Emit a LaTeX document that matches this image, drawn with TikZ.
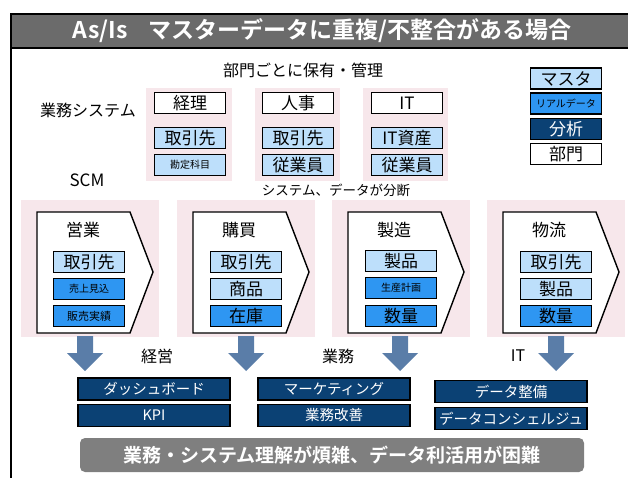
\documentclass[tikz,border=0pt]{standalone}
\usepackage{fontspec}
\setmainfont{Noto Sans CJK JP}[BoldFont={Noto Sans CJK JP Bold}]
\usetikzlibrary{positioning}

\definecolor{bgpink}{HTML}{F7E7EB}
\definecolor{masterblue}{HTML}{BDDFFB}
\definecolor{realblue}{HTML}{2E96F2}
\definecolor{navy}{HTML}{0B4174}
\definecolor{arrowblue}{HTML}{5A7DA8}
\definecolor{titlegray}{HTML}{6B6B6B}
\definecolor{bargray}{HTML}{7F7F7F}

\newcommand\fs[1]{\fontsize{#1}{#1}\selectfont}

\tikzset{
  databox/.style={draw=black, line width=1.4pt, inner sep=0pt,
                  minimum width=71pt, minimum height=21pt},
  deptbox/.style={databox, fill=white, font=\fs{17}},
  masterbox/.style={databox, fill=masterblue, font=\fs{17}},
  realbox/.style={databox, fill=realblue, font=\fs{17}},
  anabox/.style={databox, fill=navy, text=white, font=\fs{17}},
  usebox/.style={draw=black, line width=1.4pt, fill=navy, text=white,
                 minimum width=152pt, minimum height=22pt, inner sep=0pt,
                 font=\fs{14.5}},
  label/.style={inner sep=0pt, font=\fs{16}},
}

\begin{document}
\begin{tikzpicture}[x=1pt, y=-1pt]
  \useasboundingbox (0,0) rectangle (628,478);

  % frame and title
  \draw[line width=1.4pt] (11,14) -- (11,478);
  \draw[line width=1.4pt, fill=titlegray] (11,14) rectangle (640,48);
  \node[text=white, font=\bfseries\fs{23}] (title) at (322,31)
    {As/Is\hspace{0.9em}マスターデータに重複/不整合がある場合};

  % departments
  \node[label] (kanri) at (303,70) {部門ごとに保有・管理};
  \node[label] (gyomusys) at (88,110) {業務システム};
  \node[label, font=\fs{17}] (scm) at (87,180) {SCM};

  \fill[bgpink] (146,88) rectangle (232,181);
  \fill[bgpink] (255,88) rectangle (340,181);
  \fill[bgpink] (363,88) rectangle (448,181);

  \node[deptbox] (keiri) at (190,103) {経理};
  \node[masterbox] (keiri1) at (190,138) {取引先};
  \node[masterbox, font=\fs{10}] (keiri2) at (190,165) {勘定科目};

  \node[deptbox] (jinji) at (298,103) {人事};
  \node[masterbox] (jinji1) at (298,138) {取引先};
  \node[masterbox] (jinji2) at (298,165) {従業員};

  \node[deptbox] (it) at (407,103) {IT};
  \node[masterbox] (it1) at (407,138) {IT資産};
  \node[masterbox] (it2) at (407,165) {従業員};

  \node[label, font=\fs{13.5}] (bundan) at (336,190) {システム、データが分断};

  % legend
  \node[masterbox] (lgmaster) at (566,78.5) {マスタ};
  \node[realbox, font=\fs{10}] (lgreal) at (566,103.5) {リアルデータ};
  \node[anabox] (lgana) at (566,129) {分析};
  \node[deptbox] (lgdept) at (566,154) {部門};

  % SCM chevrons
  \foreach \L/\ax/\name/\ttl in {37/85/eigyo/営業, 193/246/kobai/購買,
                                 348/400/seizo/製造, 503/556/butsuryu/物流}{
    \fill[bgpink] (\L-16,200) rectangle (\L+122,337);
    \draw[line width=1.4pt, fill=white]
      (\L,212) -- (\L+93,212) -- (\L+116,272) -- (\L+93,333) -- (\L,333) -- cycle;
    \node[label, font=\fs{17}] (\name) at (\L+46,230) {\ttl};
    % down arrow
    \coordinate (\name-out) at (\ax,336);
    \fill[arrowblue] (\name-out) ++(-8,0) -- ++(16,0) -- ++(0,17) -- ++(10,0)
      -- (\ax,371) -- ++(-18,-18) -- ++(10,0) -- cycle;
  }

  \node[masterbox] (eigyo1) at (89,262) {取引先};
  \node[realbox, font=\fs{10}] (eigyo2) at (89,289) {売上見込};
  \node[realbox, font=\fs{11}] (eigyo3) at (89,316) {販売実績};

  \node[masterbox] (kobai1) at (246,262) {取引先};
  \node[masterbox] (kobai2) at (246,289) {商品};
  \node[realbox] (kobai3) at (246,316) {在庫};

  \node[masterbox] (seizo1) at (401,261) {製品};
  \node[realbox, font=\fs{10}] (seizo2) at (401,288) {生産計画};
  \node[realbox] (seizo3) at (401,316) {数量};

  \node[masterbox] (butsuryu1) at (556,262) {取引先};
  \node[masterbox] (butsuryu2) at (556,289) {製品};
  \node[realbox] (butsuryu3) at (556,316) {数量};

  % analysis
  \node[label] (keiei) at (157,356) {経営};
  \node[label] (gyomu) at (338,356) {業務};
  \node[label] (itlbl) at (518,356) {IT};

  \node[usebox] (dash) at (154,389) {ダッシュボード};
  \node[usebox] (kpi) at (154,415.5) {KPI};
  \node[usebox] (mkt) at (334,389) {マーケティング};
  \node[usebox] (kaizen) at (334,415.5) {業務改善};
  \node[usebox] (seibi) at (511,391.5) {データ整備};
  \node[usebox] (concierge) at (511,418.5) {データコンシェルジュ};

  % conclusion
  \node[fill=bargray, rounded corners=5pt, minimum width=504pt,
        minimum height=34pt, inner sep=0pt, text=white,
        font=\bfseries\fs{19}] (result) at (332,455)
    {業務・システム理解が煩雑、データ利活用が困難};
\end{tikzpicture}
\end{document}
